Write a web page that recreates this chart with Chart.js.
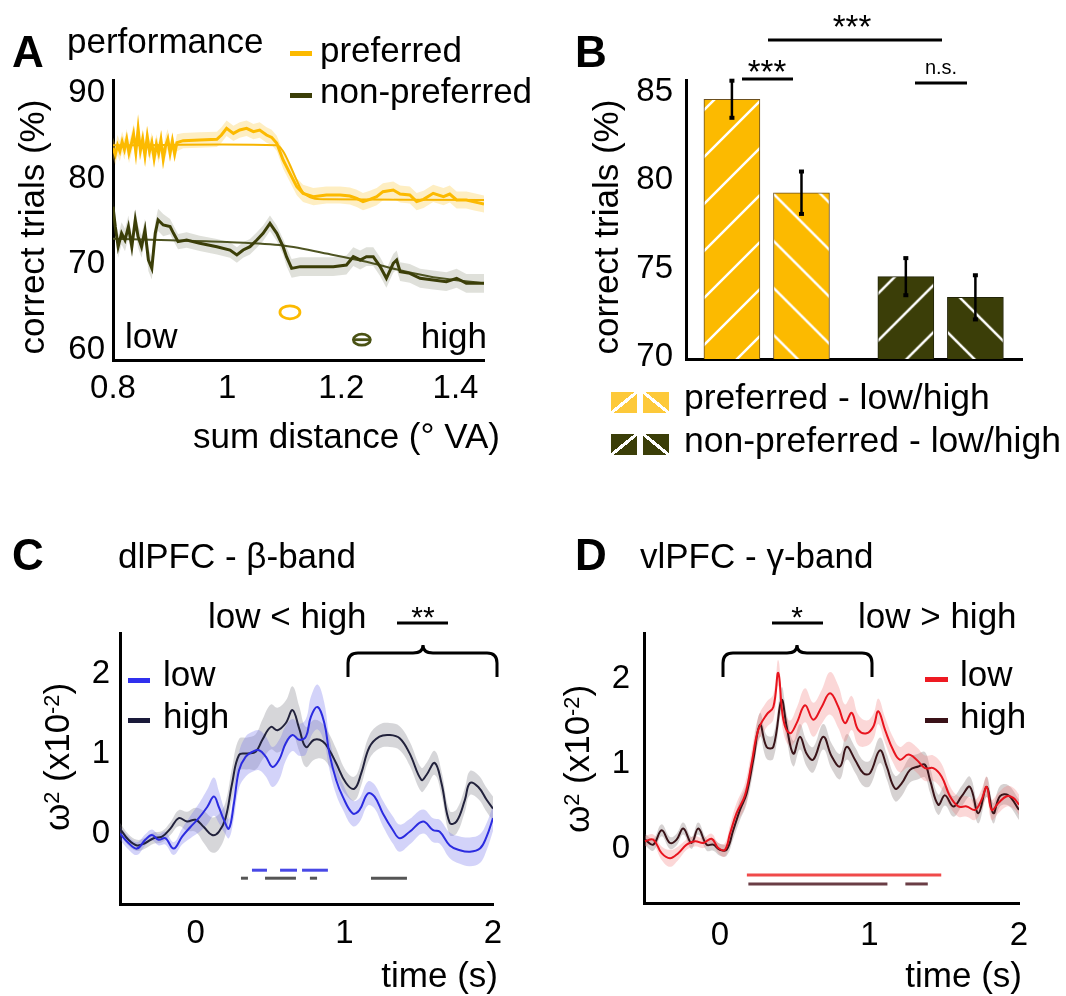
<!DOCTYPE html>
<html><head><meta charset="utf-8">
<script src="https://cdn.jsdelivr.net/npm/chart.js@4.4.1/dist/chart.umd.min.js"></script>
<style>
html,body{margin:0;padding:0;background:#fff;}
body{width:1066px;height:996px;position:relative;overflow:hidden;font-family:'Liberation Sans',Arial,Helvetica,sans-serif;color:#000;}
canvas{position:absolute;}
.t{position:absolute;white-space:nowrap;line-height:1;z-index:5;}
.dash{position:absolute;z-index:5;}
.sw{position:absolute;z-index:5;}
svg{position:absolute;left:0;top:0;z-index:4;}
.sp{position:relative;top:-0.45em;font-size:0.62em;}
</style></head><body>
<canvas id="cA" width="530" height="470" style="left:0;top:0"></canvas>
<canvas id="cB" width="526" height="470" style="left:540px;top:0"></canvas>
<canvas id="cC" width="530" height="476" style="left:0;top:520px"></canvas>
<canvas id="cD" width="536" height="476" style="left:530px;top:520px"></canvas>
<svg id="ov" width="1066" height="996"></svg>
<script>
// ---------------- DATA ----------------
// Panel A: performance vs sum distance
const prefX = [0.800,0.804,0.808,0.812,0.816,0.820,0.824,0.828,0.832,0.836,0.840,0.844,0.848,0.852,0.856,0.860,0.864,0.868,0.872,0.876,0.880,0.884,0.888,0.892,0.896,0.900,0.904,0.908,0.912,
  0.923,0.952,0.982,0.990,0.999,1.011,1.022,1.034,1.046,1.057,1.069,1.078,1.087,1.098,1.110,1.122,1.133,1.151,1.174,1.198,1.215,1.227,1.238,1.250,1.262,1.273,1.291,1.303,1.320,1.332,1.344,1.361,1.379,1.390,1.402,1.419,1.431,1.450];
const prefY = [83.6,82.8,83.9,83.2,84.3,83.4,84.6,83.0,84.0,85.2,83.1,85.8,83.3,84.6,82.7,84.9,83.2,84.2,82.4,84.0,83.0,84.5,82.3,83.8,84.6,83.0,84.4,82.9,84.2,
  84.44,84.51,84.59,85.10,85.88,85.29,85.68,85.88,85.49,85.68,85.10,84.82,84.12,82.18,80.62,79.07,78.29,77.90,78.09,78.09,77.98,77.70,77.32,77.59,77.90,78.48,78.68,78.21,78.09,77.32,77.59,78.29,77.90,78.21,77.51,77.51,77.32,77.04];
const prefSem = [1.2,1.2,1.2,1.2,1.2,1.2,1.2,1.2,1.2,1.2,1.2,1.2,1.2,1.2,1.2,1.2,1.2,1.2,1.2,1.2,1.2,1.2,1.2,1.2,1.2,1.1,1.1,1.0,1.0,
  0.9,0.9,0.9,0.9,0.9,0.9,0.9,0.9,0.9,0.9,0.9,0.9,0.9,1.0,1.0,1.0,1.0,1.0,1.0,1.0,1.0,1.0,1.0,1.0,1.0,1.0,1.0,1.0,1.0,1.0,1.0,1.0,1.0,1.0,1.0,1.0,1.0,1.0];
const prefFitX = [0.800,1.087,1.098,1.110,1.122,1.133,1.151,1.174,1.450];
const prefFitY = [83.9,83.9,83.2,81.6,79.8,78.4,77.7,77.6,77.5];
const nonX = [0.800,0.804,0.809,0.815,0.821,0.827,0.833,0.839,0.844,0.850,0.856,0.862,0.868,0.874,0.879,0.888,0.900,0.906,0.914,0.929,0.952,0.982,1.005,1.017,1.028,1.040,1.052,1.063,1.075,1.087,1.098,1.104,1.113,1.128,1.151,1.186,1.209,1.221,1.233,1.244,1.256,1.268,1.279,1.291,1.297,1.303,1.320,1.338,1.361,1.384,1.402,1.419,1.450];
const nonY = [76.73,74.40,72.06,73.62,72.84,74.40,72.06,75.18,73.23,72.06,74.01,70.51,69.53,73.62,75.18,74.59,74.40,73.62,72.65,72.84,72.45,72.06,71.67,71.09,71.67,72.06,72.84,73.62,74.79,73.62,72.06,70.89,69.53,69.73,69.73,69.73,69.92,70.89,70.51,70.89,70.89,69.73,68.37,70.12,70.51,69.14,68.95,68.37,68.17,67.98,68.37,67.78,67.78];
const nonSem = [1.3,1.3,1.3,1.3,1.3,1.3,1.3,1.3,1.3,1.3,1.3,1.3,1.3,1.3,1.3,1.3,0.9,0.9,0.9,0.9,0.9,0.9,0.9,0.9,0.9,0.9,0.9,0.9,0.9,0.9,0.9,1.1,1.1,1.1,1.1,1.1,1.1,1.1,1.1,1.1,1.1,1.1,1.1,1.1,1.1,1.1,1.1,1.1,1.1,1.1,1.1,1.1,1.1];
const nonFitX = [0.800,0.900,1.000,1.098,1.186,1.244,1.303,1.361,1.450];
const nonFitY = [73.0,72.8,72.6,72.2,71.1,70.3,69.3,68.5,67.8];
const ringX = [1.110, 1.236];
const ringY = [64.4, 61.2];
const tickA_x = [0.8, 1, 1.2, 1.4];
const tickA_y = [60, 70, 80, 90];

// Panel B: bars
const barPos = [0, 2, 5, 7];
const barVals = [84.53, 79.24, 74.49, 73.32];
const barSem = [1.05, 1.2, 1.05, 1.25];
const tickB_y = [70, 75, 80, 85];

// Panel C: dlPFC beta band
const lowCx = [-0.51,-0.453,-0.396,-0.340,-0.295,-0.250,-0.205,-0.149,-0.092,-0.036,0.020,0.077,0.122,0.155,0.189,0.223,0.257,0.291,0.336,0.381,0.426,0.471,0.516,0.561,0.606,0.651,0.696,0.741,0.775,0.820,0.865,0.899,0.944,0.989,1.056,1.101,1.158,1.203,1.259,1.327,1.372,1.439,1.529,1.597,1.642,1.709,1.777,1.845,1.912,1.957,2.0];
const lowCy = [-0.03,-0.15,-0.22,-0.11,-0.05,-0.11,-0.09,-0.22,-0.07,0.05,0.16,0.30,0.43,0.30,0.14,0.03,0.35,0.76,0.93,0.99,1.01,0.93,0.80,0.89,1.10,1.20,1.14,1.18,1.43,1.55,1.35,0.97,0.64,0.43,0.22,0.26,0.47,0.43,0.22,0.01,-0.09,-0.01,0.12,0.01,-0.01,-0.18,-0.24,-0.26,-0.22,-0.07,0.16];
const lowCsem = [0.08,0.08,0.08,0.07,0.07,0.07,0.08,0.08,0.1,0.14,0.18,0.22,0.24,0.2,0.15,0.12,0.18,0.22,0.25,0.25,0.25,0.25,0.25,0.25,0.22,0.2,0.2,0.22,0.25,0.28,0.25,0.2,0.18,0.16,0.16,0.15,0.15,0.15,0.16,0.17,0.17,0.16,0.15,0.15,0.15,0.16,0.17,0.18,0.18,0.17,0.16];
const highCx = [-0.51,-0.453,-0.396,-0.340,-0.284,-0.227,-0.171,-0.115,-0.059,-0.002,0.054,0.110,0.155,0.200,0.245,0.291,0.347,0.403,0.448,0.505,0.550,0.606,0.651,0.696,0.741,0.797,0.854,0.899,0.944,1.011,1.068,1.113,1.169,1.236,1.304,1.372,1.439,1.518,1.552,1.608,1.653,1.709,1.755,1.811,1.845,1.901,1.957,2.0];
const highCy = [0.03,-0.11,-0.18,-0.15,-0.09,-0.07,0.03,0.16,0.12,0.14,0.05,-0.05,-0.01,0.16,0.60,0.95,0.97,0.99,1.14,1.30,1.26,1.35,1.51,1.28,1.05,1.14,1.12,1.01,0.85,0.60,0.53,0.72,1.05,1.18,1.20,1.16,0.97,0.64,0.70,0.85,0.60,0.10,0.12,0.39,0.60,0.55,0.39,0.28];
const highCsem = [0.07,0.07,0.07,0.07,0.07,0.07,0.08,0.1,0.12,0.15,0.2,0.22,0.22,0.2,0.2,0.2,0.2,0.22,0.25,0.28,0.28,0.28,0.3,0.28,0.25,0.25,0.22,0.2,0.18,0.15,0.15,0.15,0.15,0.15,0.15,0.15,0.15,0.15,0.15,0.15,0.15,0.15,0.15,0.15,0.15,0.15,0.15,0.15];
const sigLowC = [[0.378,0.479],[0.567,0.681],[0.715,0.889]];
const sigHighC = [[0.304,0.351],[0.466,0.674],[0.768,0.816],[1.179,1.421]];

// Panel D: vlPFC gamma band
const lowDx = [-0.502,-0.446,-0.390,-0.334,-0.279,-0.223,-0.167,-0.111,-0.056,-0.011,0.033,0.067,0.111,0.167,0.212,0.256,0.312,0.357,0.390,0.424,0.468,0.513,0.569,0.624,0.680,0.736,0.792,0.836,0.881,0.925,0.981,1.026,1.059,1.104,1.159,1.204,1.260,1.315,1.371,1.427,1.483,1.538,1.594,1.650,1.706,1.750,1.784,1.817,1.862,1.918,1.962,2.0];
const lowDy = [0.02,0.04,-0.12,-0.18,-0.12,-0.02,0.02,0.00,0.05,-0.06,-0.08,0.11,0.35,0.56,0.94,1.33,1.51,1.60,2.00,1.45,1.29,1.41,1.62,1.45,1.60,1.76,1.60,1.41,1.53,1.33,1.29,1.37,1.55,1.33,1.09,0.98,1.04,0.98,0.88,0.88,0.78,0.55,0.43,0.43,0.39,0.51,0.66,0.39,0.47,0.55,0.53,0.45];
const lowDsem = [0.06,0.06,0.08,0.1,0.08,0.06,0.06,0.06,0.06,0.06,0.08,0.1,0.12,0.14,0.15,0.15,0.15,0.15,0.15,0.15,0.15,0.18,0.2,0.2,0.2,0.25,0.25,0.22,0.2,0.18,0.15,0.15,0.15,0.15,0.15,0.15,0.15,0.15,0.15,0.15,0.15,0.12,0.12,0.12,0.12,0.12,0.12,0.12,0.12,0.12,0.12,0.12];
const highDx = [-0.502,-0.446,-0.390,-0.334,-0.290,-0.245,-0.190,-0.145,-0.089,-0.045,0.000,0.045,0.089,0.134,0.178,0.223,0.268,0.312,0.357,0.412,0.446,0.491,0.535,0.580,0.624,0.691,0.747,0.803,0.847,0.903,0.959,1.003,1.070,1.115,1.171,1.215,1.271,1.327,1.371,1.405,1.460,1.505,1.561,1.617,1.672,1.728,1.784,1.828,1.873,1.929,2.0];
const highDy = [0.04,-0.02,0.15,0.00,0.04,0.17,0.00,0.17,-0.02,-0.02,-0.08,-0.08,0.15,0.39,0.58,0.98,1.39,1.13,1.13,1.68,1.37,1.05,1.25,1.05,0.98,1.25,1.02,0.90,1.13,0.98,0.82,0.82,1.09,0.90,0.64,0.70,0.86,0.90,0.92,0.74,0.45,0.56,0.43,0.55,0.66,0.35,0.66,0.35,0.55,0.56,0.39];
const highDsem = [0.07,0.07,0.07,0.07,0.07,0.07,0.07,0.07,0.07,0.07,0.07,0.07,0.1,0.12,0.12,0.14,0.14,0.14,0.14,0.15,0.15,0.15,0.15,0.15,0.15,0.15,0.15,0.15,0.15,0.15,0.15,0.15,0.15,0.15,0.15,0.15,0.15,0.15,0.15,0.15,0.12,0.12,0.12,0.12,0.12,0.12,0.12,0.12,0.12,0.12,0.12];
const sigLowD = [[0.18,1.48]];
const sigHighD = [[0.19,1.12],[1.24,1.39]];
const tickT = [0, 1, 2];
const tickW = [0, 1, 2];

// ---------------- STYLE ----------------
const FONT = "'Liberation Sans', Arial, Helvetica, sans-serif";
const YEL = '#FCBA00', OLV = '#3B3E08';
const TICK = 33;
Chart.defaults.font.family = FONT;
Chart.defaults.color = '#000';

function pts(xs, ys){ return xs.map((x,i)=>({x:x, y:ys[i]})); }
function offs(xs, ys, sem, s){ return xs.map((x,i)=>({x:x, y:ys[i] + s*sem[i]})); }
function line(data, color, w, tension){ return {data, borderColor:color, borderWidth:w, pointRadius:0, tension:tension, fill:false}; }
function bandPair(xs, ys, sem, color, tension){
  return [
    {data:offs(xs,ys,sem,1), borderWidth:0, borderColor:'rgba(0,0,0,0)', pointRadius:0, fill:'+1', backgroundColor:color, tension:tension},
    {data:offs(xs,ys,sem,-1), borderWidth:0, borderColor:'rgba(0,0,0,0)', pointRadius:0, fill:false, tension:tension}
  ];
}
function sigSets(segs, level, color){
  return segs.map(s => ({data:[{x:s[0],y:level},{x:s[1],y:level}], borderColor:color, borderWidth:3, pointRadius:0, fill:false, borderCapStyle:'butt'}));
}
function yScale(min, max, ticks, width, pad, lo){
  return {type:'linear', min, max, bounds:'data',
    afterBuildTicks: s => { s.ticks = ticks.map(v=>({value:v})); },
    afterFit: s => { s.width = width; },
    grid:{display:false, drawTicks:false, drawOnChartArea:false},
    border:{display:true, color:'#000', width:3},
    ticks:{padding:pad, labelOffset:lo||0, color:'#000', font:{size:TICK, family:FONT}, callback: v => String(v)}};
}
function xScale(min, max, ticks, height, pad, show){
  return {type:'linear', min, max, bounds:'data', offset:false,
    afterBuildTicks: s => { if (ticks) s.ticks = ticks.map(v=>({value:v})); },
    afterFit: s => { s.height = height; },
    grid:{display:false, drawTicks:false, drawOnChartArea:false, offset:false},
    border:{display:true, color:'#000', width:3},
    ticks:{display:show, padding:pad, color:'#000', maxRotation:0, autoSkip:false, font:{size:TICK, family:FONT}, callback: v => String(v)}};
}
function baseOpts(pad){
  return {responsive:false, animation:false, devicePixelRatio:1, events:[],
    layout:{padding:pad},
    plugins:{legend:{display:false}, tooltip:{enabled:false}}};
}

// ---------------- PANEL A ----------------
const ringPlugin = {id:'rings', afterDatasetsDraw(chart){
  const {ctx, scales:{x, y}} = chart;
  const cols = [YEL, '#4A5214'], rx = [10, 8.5], ry = [6.5, 5.5];
  ringX.forEach((v,i)=>{
    const px = x.getPixelForValue(v), py = y.getPixelForValue(ringY[i]);
    ctx.save(); ctx.strokeStyle = cols[i]; ctx.lineWidth = 2.8;
    ctx.beginPath(); ctx.ellipse(px, py, rx[i], ry[i], 0, 0, Math.PI*2); ctx.stroke();
    if (i === 1){ ctx.beginPath(); ctx.moveTo(px-rx[i], py); ctx.lineTo(px+rx[i], py); ctx.stroke(); }
    ctx.restore();
  });
}};
new Chart(document.getElementById('cA'), {
  type:'line',
  data:{datasets:[
    line(pts(prefX,prefY), YEL, 3, 0),
    line(pts(prefFitX,prefFitY), '#F7B500', 2, 0.3),
    line(pts(nonX,nonY), OLV, 3, 0),
    line(pts(nonFitX,nonFitY), '#4E5422', 2, 0.3),
    ...bandPair(prefX, prefY, prefSem, 'rgba(253,205,80,0.35)', 0),
    ...bandPair(nonX, nonY, nonSem, 'rgba(95,100,70,0.2)', 0)
  ]},
  options:Object.assign(baseOpts({top:80, right:46, left:0, bottom:0}), {
    scales:{x:xScale(0.8, 1.45, tickA_x, 110, 9, true), y:yScale(58.83, 91.52, tickA_y, 113, 8)}
  }),
  plugins:[ringPlugin]
});

// ---------------- PANEL B ----------------
const ctxB = document.getElementById('cB').getContext('2d');
function hatch(color, dir, phase){
  const s = 47, c = document.createElement('canvas'); c.width = s; c.height = s;
  const g = c.getContext('2d'); g.fillStyle = color; g.fillRect(0,0,s,s);
  g.strokeStyle = '#fff'; g.lineWidth = 2.5; g.beginPath();
  if (dir === '/'){ [0, s, 2*s].forEach(k => { g.moveTo(-5, k+5); g.lineTo(s+5, k-s-5); }); }
  else { [-s, 0, s].forEach(k => { g.moveTo(-5, k-5); g.lineTo(s+5, k+s+5); }); }
  g.stroke();
  const p = ctxB.createPattern(c, 'repeat');
  p.setTransform(dir === '/' ? new DOMMatrix([1,0,0,1,phase,0]) : new DOMMatrix([1,0,0,1,0,phase]));
  return p;
}
const barFills = [hatch(YEL,'/',39), hatch(YEL,'\\',7.4), hatch(OLV,'/',20.6), hatch(OLV,'\\',18.7)];
const errPlugin = {id:'err', afterDatasetsDraw(chart){
  const {ctx, scales:{y}} = chart; const meta = chart.getDatasetMeta(0);
  ctx.save(); ctx.strokeStyle = '#000'; ctx.fillStyle = '#000'; ctx.lineWidth = 2.5;
  meta.data.forEach((el,i)=>{
    const x = el.x, y1 = y.getPixelForValue(barVals[i]+barSem[i]), y2 = y.getPixelForValue(barVals[i]-barSem[i]);
    ctx.beginPath(); ctx.moveTo(x, y1); ctx.lineTo(x, y2); ctx.stroke();
    ctx.fillRect(x-2.5, y1-2, 5, 4); ctx.fillRect(x-2.5, y2-2, 5, 4);
  });
  ctx.restore();
}};
new Chart(ctxB, {
  type:'bar',
  data:{datasets:[{data:pts(barPos, barVals), backgroundColor:barFills,
    borderColor:['#6b4f1f','#6b4f1f','#22240a','#22240a'], borderWidth:1, barThickness:56}]},
  options:Object.assign(baseOpts({top:80, right:44, left:0, bottom:0}), {
    scales:{x:xScale(-1.32, 8.34, null, 111, 0, false), y:yScale(69.83, 85.62, tickB_y, 146, 13, 1)}
  }),
  plugins:[errPlugin]
});

// ---------------- PANEL C ----------------
new Chart(document.getElementById('cC'), {
  type:'line',
  data:{datasets:[
    line(pts(lowCx,lowCy), '#2B2BE0', 2, 0.4),
    line(pts(highCx,highCy), '#22223C', 2, 0.4),
    ...sigSets(sigLowC, -0.49, '#4848E6'),
    ...sigSets(sigHighC, -0.59, '#555555'),
    ...bandPair(lowCx, lowCy, lowCsem, 'rgba(110,110,235,0.3)', 0.4),
    ...bandPair(highCx, highCy, highCsem, 'rgba(120,120,130,0.3)', 0.4)
  ]},
  options:Object.assign(baseOpts({top:113, right:37, left:0, bottom:0}), {
    scales:{x:xScale(-0.51, 2.0, tickT, 92, 10, true), y:yScale(-0.9125, 2.475, tickW, 120, 10, 3)}
  })
});

// ---------------- PANEL D ----------------
new Chart(document.getElementById('cD'), {
  type:'line',
  data:{datasets:[
    line(pts(lowDx,lowDy), '#E8141E', 2, 0.4),
    line(pts(highDx,highDy), '#3A1419', 2, 0.4),
    ...sigSets(sigLowD, -0.376, '#F04A4A'),
    ...sigSets(sigHighD, -0.482, '#6A3D45'),
    ...bandPair(lowDx, lowDy, lowDsem, 'rgba(240,110,110,0.28)', 0.4),
    ...bandPair(highDx, highDy, highDsem, 'rgba(120,105,105,0.3)', 0.4)
  ]},
  options:Object.assign(baseOpts({top:113, right:47, left:0, bottom:0}), {
    scales:{x:xScale(-0.508, 2.0, tickT, 93, 13, true), y:yScale(-0.706, 2.47, tickW, 114, 14, 6)}
  })
});

// ---------------- TEXT & ANNOTATIONS ----------------
function txt(s, x, base, size, opt){
  opt = opt || {};
  const d = document.createElement('div'); d.className = 't'; d.innerHTML = s;
  d.style.fontSize = size + 'px'; d.style.top = (base - 0.8465*size) + 'px';
  if (opt.right) d.style.right = (1066 - x) + 'px';
  else if (opt.center){ d.style.left = x + 'px'; d.style.transform = 'translateX(-50%)'; }
  else d.style.left = x + 'px';
  if (opt.bold) d.style.fontWeight = 'bold';
  document.body.appendChild(d);
}
function vtxt(s, cx, cy, size){
  const d = document.createElement('div'); d.className = 't'; d.innerHTML = s;
  d.style.fontSize = size + 'px'; d.style.left = cx + 'px'; d.style.top = cy + 'px';
  d.style.transform = 'translate(-50%,-50%) rotate(-90deg)';
  document.body.appendChild(d);
}
function dash(x0, x1, y, color){
  const d = document.createElement('div'); d.className = 'dash';
  Object.assign(d.style, {left:x0+'px', top:(y-2.5)+'px', width:(x1-x0)+'px', height:'5px', background:color});
  document.body.appendChild(d);
}
function swatch(x, y, w, h, color, dir){
  const d = document.createElement('div'); d.className = 'sw';
  const g = dir === '/' ? 'to bottom right' : 'to top right';
  Object.assign(d.style, {left:x+'px', top:y+'px', width:w+'px', height:h+'px',
    background:`linear-gradient(${g}, ${color} 0, ${color} calc(50% - 1.6px), #fff calc(50% - 1.6px), #fff calc(50% + 1.6px), ${color} calc(50% + 1.6px))`});
  document.body.appendChild(d);
}
const ov = document.getElementById('ov');
function svgEl(tag, attrs){ const e = document.createElementNS('http://www.w3.org/2000/svg', tag); for (const k in attrs) e.setAttribute(k, attrs[k]); ov.appendChild(e); }
function hline(x0, x1, y){ svgEl('line', {x1:x0, y1:y, x2:x1, y2:y, stroke:'#000', 'stroke-width':3}); }
function brace(x0, x1, xc, yb, yh, yc){
  const d = `M${x0} ${yb} L${x0} ${yh+10} Q${x0} ${yh} ${x0+10} ${yh} L${xc-10} ${yh} Q${xc} ${yh} ${xc} ${yc} Q${xc} ${yh} ${xc+10} ${yh} L${x1-10} ${yh} Q${x1} ${yh} ${x1} ${yh+10} L${x1} ${yb}`;
  svgEl('path', {d, fill:'none', stroke:'#000', 'stroke-width':3});
}

// Panel A
txt('A', 12, 67, 44, {bold:true});
txt('performance', 67, 53, 35);
dash(290, 312, 53, YEL); txt('preferred', 320, 62, 35);
dash(290, 312, 95, OLV); txt('non-preferred', 320, 103, 35);
txt('low', 125, 348, 35);
txt('high', 487, 348, 35, {right:true});
txt('sum distance (° VA)', 500, 448, 35, {right:true});
vtxt('correct trials (%)', 31, 227, 35);

// Panel B
txt('B', 575, 67, 44, {bold:true});
vtxt('correct trials (%)', 605, 227, 35);
txt('***', 852, 38, 33, {center:true}); hline(768, 942, 40);
txt('***', 767, 83, 33, {center:true}); hline(742, 793, 79);
txt('n.s.', 941, 74, 20, {center:true}); hline(915, 967, 83);
swatch(611, 392, 26, 21, '#FDC93A', '/'); swatch(643, 392, 26, 21, '#FDC93A', '\\');
swatch(611, 434, 26, 21, OLV, '/'); swatch(643, 434, 26, 21, OLV, '\\');
txt('preferred - low/high', 684, 410, 35.5);
txt('non-preferred - low/high', 684, 453, 35.5);

// Panel C
txt('C', 12, 570, 44, {bold:true});
txt('dlPFC - β-band', 118, 568, 35);
txt('low &lt; high', 208, 628, 35);
txt('**', 423, 627, 30, {center:true}); hline(397, 448, 623);
brace(348, 497, 423, 677, 653, 645);
dash(128, 150, 680, '#3030EE'); txt('low', 163, 686, 35);
dash(128, 150, 720, '#1A1A3A'); txt('high', 163, 728, 35);
vtxt('ω<span class="sp">2</span> (x10<span class="sp">-2</span>)', 56, 757, 35);
txt('time (s)', 498, 987, 35, {right:true});

// Panel D
txt('D', 575, 570, 44, {bold:true});
txt('vlPFC - γ-band', 640, 568, 35);
txt('*', 797, 627, 30, {center:true}); hline(772, 823, 623);
brace(723, 872, 797, 677, 653, 645);
txt('low &gt; high', 858, 628, 35);
dash(925, 948, 679, '#EE1A22'); txt('low', 960, 686, 35);
dash(925, 948, 720, '#3A1218'); txt('high', 960, 728, 35);
vtxt('ω<span class="sp">2</span> (x10<span class="sp">-2</span>)', 576, 759, 35);
txt('time (s)', 1022, 987, 35, {right:true});
</script>
</body></html>
